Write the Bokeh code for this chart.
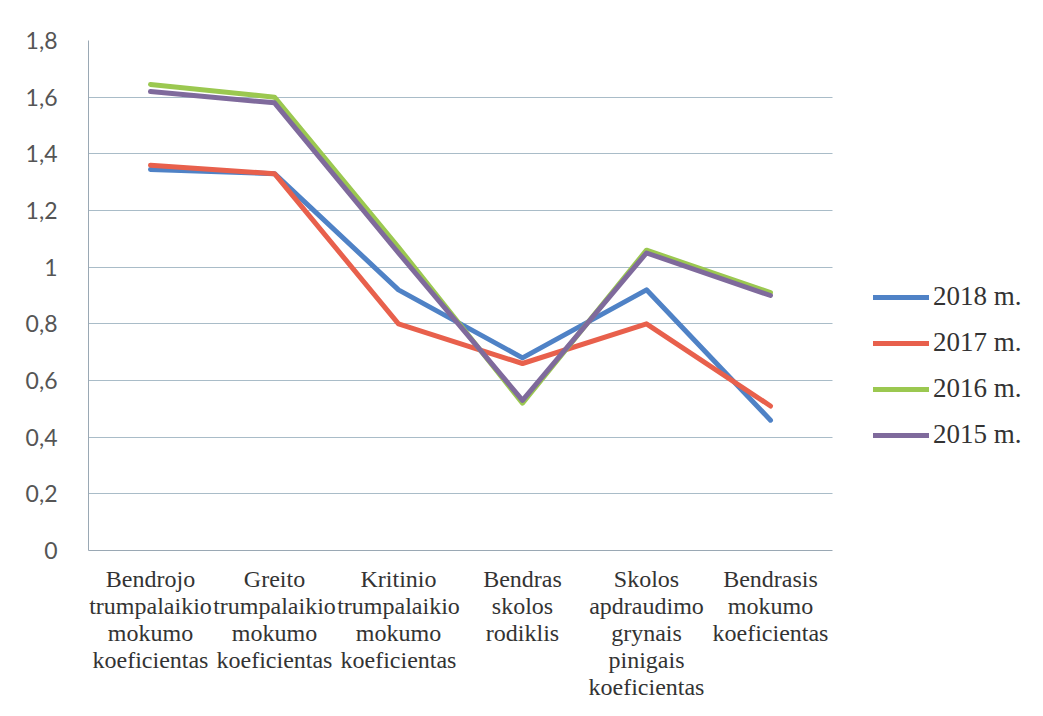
from bokeh.plotting import figure
from bokeh.models import Legend, LegendItem, FixedTicker, CustomJSTickFormatter, Range1d, BoxAnnotation
from bokeh.embed import file_html
from bokeh.resources import INLINE

categories = [
    "Bendrojo\ntrumpalaikio\nmokumo\nkoeficientas",
    "Greito\ntrumpalaikio\nmokumo\nkoeficientas",
    "Kritinio\ntrumpalaikio\nmokumo\nkoeficientas",
    "Bendras\nskolos\nrodiklis",
    "Skolos\napdraudimo\ngrynais\npinigais\nkoeficientas",
    "Bendrasis\nmokumo\nkoeficientas",
]
v2018 = [1.345, 1.33, 0.92, 0.68, 0.92, 0.46]
v2017 = [1.36, 1.33, 0.80, 0.66, 0.80, 0.51]
v2016 = [1.645, 1.60, 1.07, 0.52, 1.06, 0.91]
v2015 = [1.62, 1.58, 1.05, 0.53, 1.05, 0.90]
series_names = ["2018 m.", "2017 m.", "2016 m.", "2015 m."]
series_values = [v2018, v2017, v2016, v2015]
series_colors = ["#4f82c6", "#e8604c", "#9bc850", "#7f6a9c"]
y_ticks = [0, 0.2, 0.4, 0.6, 0.8, 1.0, 1.2, 1.4, 1.6, 1.8]

n = len(categories)
xs = list(range(n))

SERIF = "'Liberation Serif'"
SANS = "'Lato'"

# frame spans from x=88 to the right edge; one category = 124 px
frame_px = 1043 - 88
x_end = -0.5 + frame_px / 124.0

p = figure(width=1043, height=716, output_backend="svg", toolbar_location=None,
           x_range=Range1d(-0.5, x_end), y_range=Range1d(0, 1.8),
           min_border_left=88, min_border_right=0, min_border_top=40, min_border_bottom=166)
p.outline_line_color = None
p.background_fill_color = "white"
p.border_fill_color = "white"

items = []
for name, vals, col in zip(series_names, series_values, series_colors):
    r = p.line(xs, vals, line_color=col, line_width=5, line_join="round", line_cap="round")
    items.append(LegendItem(label=name, renderers=[r]))

# axes
p.xaxis.ticker = FixedTicker(ticks=xs)
p.xaxis.bounds = (-0.5, n - 0.5)
p.xaxis.major_label_overrides = {i: c for i, c in enumerate(categories)}
p.xaxis.major_label_text_font = SERIF
p.xaxis.major_label_text_font_size = "24px"
p.xaxis.major_label_text_color = "#333333"
p.xaxis.major_label_text_line_height = 1.04
p.xaxis.major_tick_line_color = None
p.xaxis.minor_tick_line_color = None
p.xaxis.axis_line_color = "#9aa8b4"
p.xaxis.major_label_standoff = 9

p.yaxis.ticker = FixedTicker(ticks=y_ticks)
p.yaxis.formatter = CustomJSTickFormatter(code="""
    const s = (Math.round(tick * 10) / 10).toString();
    return s.replace('.', ',');
""")
p.yaxis.major_label_text_font = SANS
p.yaxis.major_label_text_font_size = "23px"
p.yaxis.major_label_text_color = "#555555"
p.yaxis.major_tick_line_color = None
p.yaxis.minor_tick_line_color = None
p.yaxis.axis_line_color = "#9aa8b4"
p.yaxis.major_label_standoff = 25

p.xgrid.grid_line_color = None
p.ygrid.grid_line_color = "#a9bcc8"
p.ygrid.grid_line_width = 1

# white cover for the legend area to the right of the plot area
cover = BoxAnnotation(left=n - 0.5, fill_color="white", fill_alpha=1.0, line_color=None, level="underlay")
p.add_layout(cover)

legend = Legend(items=items, location=(785, 100), orientation="vertical")
legend.label_text_font = SERIF
legend.label_text_font_size = "27px"
legend.label_text_color = "#333333"
legend.glyph_width = 56
legend.glyph_height = 30
legend.label_height = 30
legend.label_standoff = 4
legend.spacing = 15
legend.padding = 0
legend.margin = 0
legend.border_line_color = None
legend.background_fill_alpha = 0
p.add_layout(legend)

open("out.html", "w").write(file_html(p, INLINE))
